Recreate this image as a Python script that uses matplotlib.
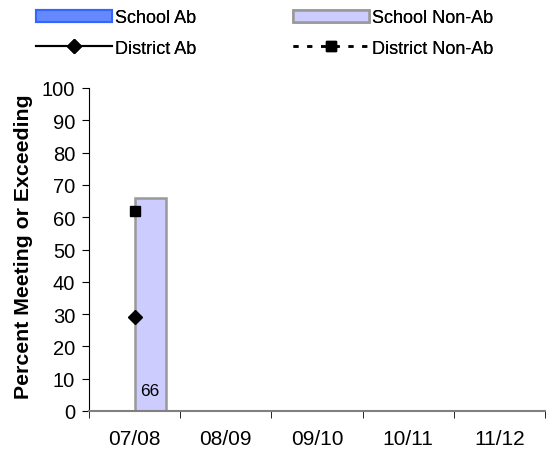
import numpy as np
import matplotlib
matplotlib.use("Agg")
import matplotlib.pyplot as plt
from matplotlib.patches import Patch
from matplotlib.lines import Line2D

plt.rcParams['font.family'] = ['Liberation Sans', 'DejaVu Sans']

years = ['07/08', '08/09', '09/10', '10/11', '11/12']
school_ab = [np.nan, np.nan, np.nan, np.nan, np.nan]
school_nonab = [66, np.nan, np.nan, np.nan, np.nan]
district_ab = [29, np.nan, np.nan, np.nan, np.nan]
district_nonab = [62, np.nan, np.nan, np.nan, np.nan]

W, H = 548, 456
fig = plt.figure(figsize=(W / 100, H / 100), dpi=100)
ax = fig.add_axes([89 / W, 1 - 412 / H, 456 / W, 323 / H])

x = np.arange(len(years))
w = 0.34
ax.bar(x - w / 2, school_ab, w, color='#6688FF', edgecolor='#3366FF', linewidth=1.5)
ax.bar(x + w / 2, school_nonab, w, color='#CCCCFF', edgecolor='#999999', linewidth=1.8)
for xi, v in zip(x, school_nonab):
    if not np.isnan(v):
        ax.text(xi + w / 2, 6.5, f'{v:.0f}', ha='center', va='center', fontsize=12.5)

ax.plot(x, district_ab, color='black', linestyle='-', linewidth=1.5, marker='D', markersize=7.5)
ax.plot(x, district_nonab, color='black', linestyle=(0, (3, 3)), linewidth=1.5, marker='s', markersize=7.5)

ax.set_xlim(-0.5, len(years) - 0.5)
ax.set_ylim(0, 100)
ax.set_yticks(range(0, 101, 10))
ax.set_xticks(x)
ax.set_xticklabels(years)
ax.set_xticks(np.arange(-0.5, len(years), 1), minor=True)
ax.tick_params(axis='x', which='major', length=0, pad=13, labelsize=15)
ax.tick_params(axis='x', which='minor', length=5, direction='out', color='black')
ax.tick_params(axis='y', length=5, direction='out', labelsize=14.5, pad=5)
ax.spines['top'].set_visible(False)
ax.spines['right'].set_visible(False)
ax.spines['bottom'].set_color('#808080')
ax.spines['bottom'].set_linewidth(1.5)
ax.set_ylabel('Percent Meeting or Exceeding', fontsize=15.3, fontweight='bold', labelpad=6)
ax.yaxis.label.set_y(0.513)

col1 = [Patch(facecolor='#6688FF', edgecolor='#3366FF', linewidth=1.5),
        Line2D([], [], color='black', linestyle='-', linewidth=1.5, marker='D', markersize=7)]
col2 = [Patch(facecolor='#CCCCFF', edgecolor='#999999', linewidth=1.8),
        Line2D([], [], color='black', linestyle=(0, (2, 3.5)), linewidth=1.8, marker='s', markersize=7)]
labels1 = ['School Ab', 'District Ab']
labels2 = ['School Non-Ab', 'District Non-Ab']
for hs, ls, x0 in [(col1, labels1, 36), (col2, labels2, 293)]:
    leg = fig.legend(hs, ls, loc='center left', bbox_to_anchor=(x0 / W, 1 - 34 / H),
                     frameon=False, fontsize=13, handlelength=4.2, handleheight=0.7,
                     handletextpad=0.2, labelspacing=0.75, borderpad=0.0, borderaxespad=0.0)
    fig.add_artist(leg)

fig.savefig('out.png', dpi=100)
